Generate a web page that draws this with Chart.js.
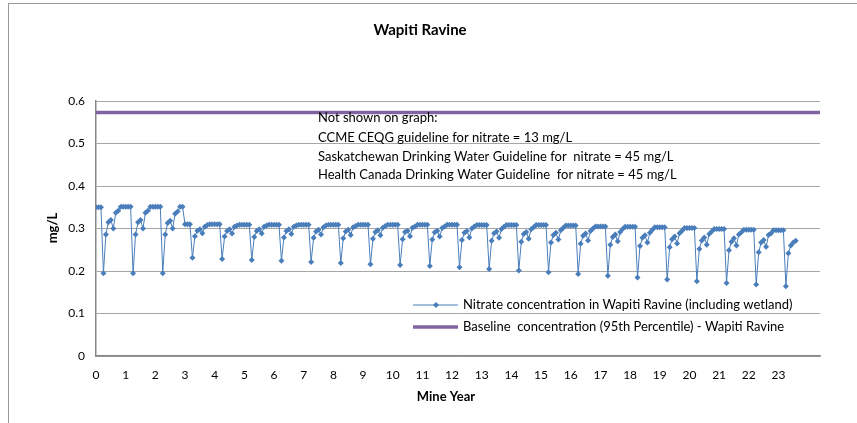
<!DOCTYPE html>
<html>
<head>
<meta charset="utf-8">
<script src="https://cdn.jsdelivr.net/npm/chart.js@4"></script>
<style>
  html, body { margin: 0; padding: 0; background: #fff; }
  canvas { display: block; }
</style>
</head>
<body>
<canvas id="chartWapiti" width="857" height="423"></canvas>
<script>
// ================================
// DATA – monthly nitrate (mg/L), one row per cycle
// ================================
const yearLabels = ['0','1','2','3','4','5','6','7','8','9','10','11','12','13','14','15','16','17','18','19','20','21','22','23'];
const monthsPerYear = 12;

const nitrate = [
  0.350, 0.350, 0.350,
  0.195, 0.286, 0.315, 0.320, 0.300, 0.337, 0.342, 0.351, 0.351, 0.351, 0.351, 0.351,
  0.195, 0.286, 0.315, 0.320, 0.300, 0.337, 0.342, 0.351, 0.351, 0.351, 0.351, 0.351,
  0.195, 0.286, 0.313, 0.318, 0.300, 0.335, 0.340, 0.351, 0.351, 0.310, 0.310, 0.310,
  0.231, 0.282, 0.295, 0.298, 0.289, 0.304, 0.308, 0.310, 0.310, 0.310, 0.310, 0.310,
  0.228, 0.281, 0.294, 0.298, 0.288, 0.304, 0.307, 0.309, 0.309, 0.309, 0.309, 0.309,
  0.226, 0.280, 0.294, 0.298, 0.288, 0.304, 0.307, 0.309, 0.309, 0.309, 0.309, 0.309,
  0.224, 0.279, 0.294, 0.298, 0.287, 0.304, 0.307, 0.309, 0.309, 0.309, 0.309, 0.309,
  0.221, 0.278, 0.293, 0.297, 0.286, 0.303, 0.307, 0.309, 0.309, 0.309, 0.309, 0.309,
  0.219, 0.277, 0.293, 0.297, 0.285, 0.303, 0.306, 0.309, 0.309, 0.309, 0.309, 0.309,
  0.216, 0.276, 0.292, 0.296, 0.284, 0.302, 0.306, 0.309, 0.309, 0.309, 0.309, 0.309,
  0.214, 0.275, 0.292, 0.295, 0.282, 0.302, 0.305, 0.309, 0.309, 0.309, 0.309, 0.309,
  0.212, 0.274, 0.291, 0.295, 0.281, 0.301, 0.305, 0.309, 0.309, 0.309, 0.309, 0.309,
  0.209, 0.273, 0.290, 0.294, 0.279, 0.300, 0.305, 0.308, 0.308, 0.308, 0.308, 0.308,
  0.205, 0.271, 0.289, 0.293, 0.278, 0.299, 0.304, 0.308, 0.308, 0.308, 0.308, 0.308,
  0.201, 0.269, 0.287, 0.292, 0.276, 0.298, 0.303, 0.308, 0.308, 0.308, 0.308, 0.308,
  0.197, 0.267, 0.285, 0.290, 0.274, 0.296, 0.302, 0.307, 0.307, 0.307, 0.307, 0.307,
  0.193, 0.264, 0.283, 0.288, 0.272, 0.294, 0.300, 0.305, 0.305, 0.305, 0.305, 0.305,
  0.189, 0.262, 0.280, 0.286, 0.270, 0.292, 0.299, 0.304, 0.304, 0.304, 0.304, 0.304,
  0.185, 0.259, 0.278, 0.284, 0.267, 0.290, 0.297, 0.303, 0.303, 0.303, 0.303, 0.303,
  0.180, 0.256, 0.275, 0.281, 0.265, 0.289, 0.295, 0.301, 0.301, 0.301, 0.301, 0.301,
  0.176, 0.252, 0.272, 0.279, 0.262, 0.287, 0.293, 0.299, 0.299, 0.299, 0.299, 0.299,
  0.172, 0.249, 0.269, 0.277, 0.260, 0.286, 0.291, 0.297, 0.297, 0.297, 0.297, 0.297,
  0.168, 0.244, 0.267, 0.273, 0.257, 0.285, 0.289, 0.296, 0.296, 0.296, 0.296, 0.296,
  0.164, 0.242, 0.260, 0.267, 0.271
];

const baselineValue = 0.573;   // 95th percentile
const xMax = 24.4;             // end of the year axis

const seriesLabels = [
  'Nitrate concentration in Wapiti Ravine (including wetland)',
  'Baseline  concentration (95th Percentile) - Wapiti Ravine'
];
const noteLines = [
  'Not shown on graph:',
  'CCME CEQG guideline for nitrate = 13 mg/L',
  'Saskatchewan Drinking Water Guideline for  nitrate = 45 mg/L',
  'Health Canada Drinking Water Guideline  for nitrate = 45 mg/L'
];

const BLUE = '#4a7ebb';
const PURPLE = '#8064a2';
const FONT = 'Lato, "Open Sans", sans-serif';

// ================================
// Extra drawing: frame, title, axis titles, note, legend
// ================================
const decorations = {
  id: 'decorations',
  beforeDraw(chart) {
    const ctx = chart.ctx;
    ctx.save();
    ctx.strokeStyle = '#9a9a9a';
    ctx.lineWidth = 1;
    ctx.strokeRect(8.5, 3.5, 900, 500);
    ctx.restore();
  },
  afterDraw(chart) {
    const ctx = chart.ctx;
    ctx.save();
    ctx.fillStyle = '#000';
    ctx.textBaseline = 'middle';

    ctx.textAlign = 'center';
    ctx.font = 'bold 15px ' + FONT;
    ctx.fillText('Wapiti Ravine', 420, 30);
    ctx.font = 'bold 13px ' + FONT;
    ctx.fillText('Mine Year', 446, 397);
    ctx.save();
    ctx.translate(53, 228);
    ctx.rotate(-Math.PI / 2);
    ctx.fillText('mg/L', 0, 0);
    ctx.restore();

    ctx.font = '13px ' + FONT;
    ctx.textAlign = 'left';
    const noteY = [118, 138, 157, 175];
    noteLines.forEach((t, i) => ctx.fillText(t, 318, noteY[i]));

    // legend
    ctx.strokeStyle = BLUE;
    ctx.lineWidth = 1;
    ctx.beginPath(); ctx.moveTo(413, 305); ctx.lineTo(458, 305); ctx.stroke();
    ctx.fillStyle = BLUE;
    ctx.beginPath();
    ctx.moveTo(436, 302); ctx.lineTo(439, 305); ctx.lineTo(436, 308); ctx.lineTo(433, 305);
    ctx.closePath(); ctx.fill();
    ctx.strokeStyle = PURPLE;
    ctx.lineWidth = 3.5;
    ctx.beginPath(); ctx.moveTo(413, 327); ctx.lineTo(458, 327); ctx.stroke();

    ctx.fillStyle = '#000';
    ctx.fillText(seriesLabels[0], 463, 305);
    ctx.fillText(seriesLabels[1], 463, 327);
    ctx.restore();
  }
};

const nitratePoints = nitrate.map((v, i) => ({ x: i / monthsPerYear, y: v }));
const baselinePoints = [{ x: 0, y: baselineValue }, { x: xMax, y: baselineValue }];

new Chart(document.getElementById('chartWapiti').getContext('2d'), {
  type: 'line',
  data: {
    datasets: [
      {
        label: seriesLabels[1],
        data: baselinePoints,
        borderColor: PURPLE,
        borderWidth: 3.5,
        pointRadius: 0,
        fill: false
      },
      {
        label: seriesLabels[0],
        data: nitratePoints,
        borderColor: BLUE,
        backgroundColor: BLUE,
        borderWidth: 1,
        pointStyle: 'rectRot',
        pointRadius: 3,
        pointBorderWidth: 0,
        tension: 0,
        fill: false
      }
    ]
  },
  options: {
    responsive: false,
    animation: false,
    layout: { padding: { left: 0, top: 101, right: 37, bottom: 0 } },
    plugins: {
      legend: { display: false },
      title: { display: false },
      tooltip: { enabled: false }
    },
    scales: {
      x: {
        type: 'linear',
        min: 0,
        max: xMax,
        afterFit: scale => { scale.height = 423 - 356; },
        ticks: {
          stepSize: 1,
          autoSkip: false,
          maxRotation: 0,
          padding: 12,
          color: '#000',
          font: { family: FONT, size: 12 },
          callback: v => (Number.isInteger(v) && v < yearLabels.length) ? yearLabels[v] : ''
        },
        grid: { display: false, drawTicks: false },
        border: { color: '#868686', width: 1.5 }
      },
      y: {
        min: 0,
        max: 0.6,
        afterFit: scale => { scale.width = 96; },
        ticks: {
          stepSize: 0.1,
          padding: 11,
          color: '#000',
          font: { family: FONT, size: 12 },
          callback: v => v === 0 ? '0' : v.toFixed(1)
        },
        grid: { color: '#a6a6a6', drawTicks: false },
        border: { color: '#868686', width: 1.5 }
      }
    }
  },
  plugins: [decorations]
});
</script>
</body>
</html>
